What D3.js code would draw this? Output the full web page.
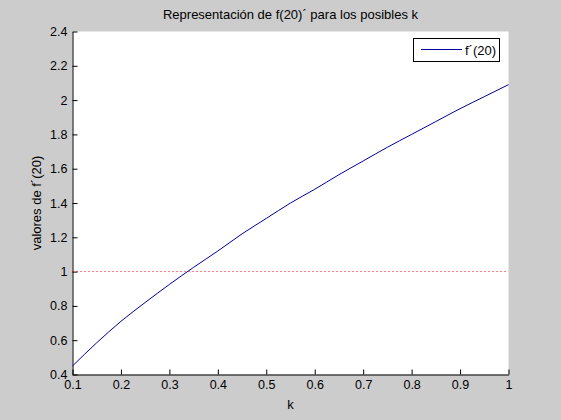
<!DOCTYPE html>
<html><head><meta charset="utf-8">
<script src="https://cdn.jsdelivr.net/npm/d3@7"></script>
<style>
html,body{margin:0;padding:0;background:#cccccc;}
svg{display:block;font-family:"Liberation Sans",Arial,Helvetica,sans-serif;}
</style></head>
<body>
<script>
const kValues = [0.1,0.15,0.2,0.25,0.3,0.35,0.4,0.45,0.5,0.55,0.6,0.65,0.7,0.75,0.8,0.85,0.9,0.95,1.0];
const fValues = [0.45,0.585,0.71,0.82,0.925,1.025,1.12,1.22,1.31,1.40,1.48,1.565,1.645,1.725,1.80,1.875,1.95,2.02,2.09];
const refLine = 1;
const xTicks = [0.1,0.2,0.3,0.4,0.5,0.6,0.7,0.8,0.9,1];
const yTicks = [0.4,0.6,0.8,1,1.2,1.4,1.6,1.8,2,2.2,2.4];
const titleText = "Representación de f(20)´ para los posibles k";
const xLabel = "k";
const yLabel = "valores de f´(20)";
const legendLabel = "f´(20)";

const W = 561, H = 420;
const L = 72.5, R = 508.5, T = 31.5, B = 374.5;
const svg = d3.select("body").append("svg").attr("width", W).attr("height", H);
svg.append("rect").attr("width", W).attr("height", H).attr("fill", "#cccccc");
svg.append("rect").attr("x", L).attr("y", T).attr("width", R - L).attr("height", B - T).attr("fill", "#ffffff");

const x = d3.scaleLinear().domain([0.1, 1]).range([L, R]);
const y = d3.scaleLinear().domain([0.4, 2.4]).range([B, T]);
const fmt = d => String(+d.toFixed(1));

const xAxis = svg.append("g").attr("transform", `translate(0,${B})`)
  .call(d3.axisBottom(x).tickValues(xTicks).tickFormat(fmt).tickSizeInner(-5).tickSizeOuter(0).tickPadding(6));
const yAxis = svg.append("g").attr("transform", `translate(${L},0)`)
  .call(d3.axisLeft(y).tickValues(yTicks).tickFormat(fmt).tickSizeInner(-5).tickSizeOuter(0).tickPadding(5));
[xAxis, yAxis].forEach(g => {
  g.select(".domain").attr("stroke", "#000").attr("stroke-width", 1);
  g.selectAll(".tick line").attr("stroke", "#000");
  g.selectAll(".tick text").attr("fill", "#000").attr("font-size", 12.5)
   .attr("font-family", "'Liberation Sans',Arial,sans-serif");
});

// reference dotted line
const yRef = Math.floor(y(refLine)) + 0.5;
svg.append("line").attr("x1", x(0.1)).attr("x2", x(1)).attr("y1", yRef).attr("y2", yRef)
  .attr("stroke", "#ff0000").attr("stroke-width", 1).attr("stroke-dasharray", "1,3");

// curve
const data = kValues.map((k, i) => [k, fValues[i]]);
svg.append("path").datum(data)
  .attr("d", d3.line().x(d => x(d[0])).y(d => y(d[1])).curve(d3.curveMonotoneX))
  .attr("fill", "none").attr("stroke", "#0000a0").attr("stroke-width", 1);

// title and labels
svg.append("text").attr("x", (L + R) / 2).attr("y", 19).attr("text-anchor", "middle")
  .attr("font-size", 13).attr("fill", "#000").text(titleText);
svg.append("text").attr("x", (L + R) / 2).attr("y", 409).attr("text-anchor", "middle")
  .attr("font-size", 13).attr("fill", "#000").text(xLabel);
svg.append("text").attr("transform", `translate(41,${(T + B) / 2}) rotate(-90)`).attr("text-anchor", "middle")
  .attr("font-size", 13).attr("fill", "#000").text(yLabel);

// legend
const lg = svg.append("g");
lg.append("rect").attr("x", 413.5).attr("y", 38.5).attr("width", 86).attr("height", 23)
  .attr("fill", "#fff").attr("stroke", "#000").attr("stroke-width", 1);
lg.append("line").attr("x1", 421).attr("x2", 462).attr("y1", 49.5).attr("y2", 49.5)
  .attr("stroke", "#0000a0").attr("stroke-width", 1);
lg.append("text").attr("x", 465).attr("y", 54.5).attr("font-size", 13).attr("fill", "#000").text(legendLabel);
</script>
</body></html>
